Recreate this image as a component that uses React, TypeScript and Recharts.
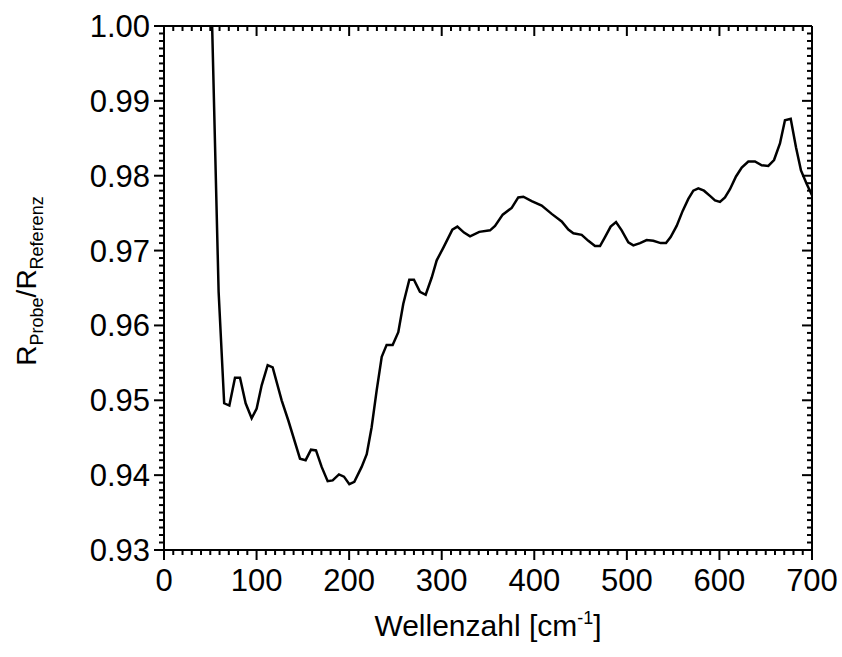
import React from 'react';
import { LineChart, Line, XAxis, YAxis } from 'recharts';

// wavenumber [cm^-1] and reflectance ratio
const wavenumbers = [
  52, 59, 65, 70.6, 76.7, 82.1, 88.2, 94.7, 100.1, 105.5, 112, 117.4, 127.1, 134.3,
  146.9, 153, 158.8, 164.2, 170.3, 176.8, 182.2, 189, 194.4, 200.2, 205.6, 213.5,
  219, 224.3, 229.7, 235.2, 240.5, 247, 253.1, 258.5, 265, 270, 276.5, 282.7, 289.2,
  294.6, 301.8, 311.5, 316.9, 324.1, 330.6, 340.6, 352.2, 357.6, 365.9, 375.6, 382.7,
  388.2, 397.2, 408, 418.8, 429.6, 436.8, 442.2, 451.2, 458.4, 465.6, 471, 476.4,
  482.5, 488.3, 494.4, 501.6, 507, 514.2, 521.4, 528.6, 536.5, 542.3, 547.3, 553.8,
  560.3, 566.4, 571.8, 577.2, 583.3, 589.8, 595.2, 600.6, 606, 611.4, 617.9, 624.1,
  631.2, 638.4, 645.7, 652.8, 659, 665.4, 670.8, 677, 682.7, 688.1, 694.3, 700,
];
const ratio = [
  1.0, 0.9645, 0.9496, 0.9493, 0.953, 0.953, 0.9496, 0.9476, 0.9489, 0.952, 0.9547, 0.9544, 0.95, 0.9473,
  0.9422, 0.942, 0.9434, 0.9433, 0.9411, 0.9392, 0.9393, 0.9401, 0.9398, 0.9388, 0.9391, 0.9411,
  0.9428, 0.9464, 0.9513, 0.9558, 0.9574, 0.9574, 0.9591, 0.9629, 0.9661, 0.9661, 0.9645, 0.9641, 0.9664,
  0.9687, 0.9704, 0.9728, 0.9732, 0.9724, 0.9719, 0.9725, 0.9727, 0.9733, 0.9748, 0.9757, 0.9771,
  0.9772, 0.9766, 0.976, 0.9749, 0.9739, 0.9728, 0.9723, 0.9721, 0.9713, 0.9706, 0.9706, 0.9718,
  0.9732, 0.9738, 0.9727, 0.9711, 0.9707, 0.971, 0.9714, 0.9713, 0.971, 0.971, 0.9718, 0.9733,
  0.9753, 0.9769, 0.978, 0.9783, 0.978, 0.9773, 0.9767, 0.9765, 0.9771, 0.9782, 0.9799, 0.9811,
  0.9819, 0.9819, 0.9814, 0.9813, 0.9821, 0.9843, 0.9874, 0.9876, 0.9838, 0.9807, 0.9789, 0.9774,
];

const X_DOMAIN = [0, 700];
const Y_DOMAIN = [0.93, 1.0];
const X_MAJOR = [0, 100, 200, 300, 400, 500, 600, 700];
const Y_MAJOR = ['0.93', '0.94', '0.95', '0.96', '0.97', '0.98', '0.99', '1.00'];

// minor ticks every 10 cm-1 and every 0.001
const xTicks = Array.from({ length: 71 }, (_, i) => i * 10);
const yTicks = Array.from({ length: 71 }, (_, i) => Math.round((0.93 + i * 0.001) * 1000) / 1000);

const data = wavenumbers.map((w, i) => ({ w, r: ratio[i] }));

const FONT = '"Liberation Sans", Arial, Helvetica, sans-serif';
const MAJOR_LEN = 10;
const MINOR_LEN = 5;

const isXMajor = (v: number) => X_MAJOR.includes(v);
const isYMajor = (v: number) => Y_MAJOR.includes(v.toFixed(2)) && Math.round(v * 1000) % 10 === 0;

function BottomTick({ x, y, payload }: any) {
  const major = isXMajor(payload.value);
  return (
    <g>
      <line x1={x} y1={y} x2={x} y2={y + (major ? MAJOR_LEN : MINOR_LEN)} stroke="#000" strokeWidth={2} />
      {major && (
        <text x={x} y={y + 41} textAnchor="middle" fontSize={31} fontFamily={FONT} fill="#000">
          {payload.value}
        </text>
      )}
    </g>
  );
}

function TopTick({ x, y, payload }: any) {
  const major = isXMajor(payload.value);
  return <line x1={x} y1={y} x2={x} y2={y + (major ? MAJOR_LEN : MINOR_LEN)} stroke="#000" strokeWidth={2} />;
}

function LeftTick({ x, y, payload }: any) {
  const major = isYMajor(payload.value);
  return (
    <g>
      <line x1={x} y1={y} x2={x - (major ? MAJOR_LEN : MINOR_LEN)} y2={y} stroke="#000" strokeWidth={2} />
      {major && (
        <text x={x - 14} y={y + 11} textAnchor="end" fontSize={31} fontFamily={FONT} fill="#000">
          {payload.value.toFixed(2)}
        </text>
      )}
    </g>
  );
}

function RightTick({ x, y, payload }: any) {
  const major = isYMajor(payload.value);
  return <line x1={x} y1={y} x2={x - (major ? MAJOR_LEN : MINOR_LEN)} y2={y} stroke="#000" strokeWidth={2} />;
}

function XTitle() {
  return (
    <text x={488} y={636} textAnchor="middle" fontSize={30} fontFamily={FONT} fill="#000">
      Wellenzahl [cm
      <tspan fontSize={18} dy={-12}>-1</tspan>
      <tspan dy={12}>]</tspan>
    </text>
  );
}

function YTitle() {
  return (
    <text
      x={36}
      y={281}
      transform="rotate(-90 36 281)"
      textAnchor="middle"
      fontSize={28}
      fontFamily={FONT}
      fill="#000"
    >
      R
      <tspan fontSize={18} dy={7}>Probe</tspan>
      <tspan dy={-7}>/R</tspan>
      <tspan fontSize={18} dy={7}>Referenz</tspan>
    </text>
  );
}

const axisLine = { stroke: '#000', strokeWidth: 2 };

export default function App() {
  return (
    <div style={{ position: 'absolute', left: 0, top: 0, background: '#fff' }}>
      <LineChart width={842} height={657} data={data} margin={{ top: 25, right: 29, bottom: 47, left: 64 }}>
        <XAxis
          xAxisId="bottom"
          dataKey="w"
          type="number"
          domain={X_DOMAIN}
          ticks={xTicks}
          interval={0}
          allowDataOverflow
          height={60}
          tickSize={0}
          tickMargin={0}
          tickLine={false}
          axisLine={axisLine}
          tick={(p: any) => <BottomTick {...p} />}
          label={{ content: () => <XTitle /> }}
        />
        <XAxis
          xAxisId="top"
          orientation="top"
          dataKey="w"
          type="number"
          domain={X_DOMAIN}
          ticks={xTicks}
          interval={0}
          allowDataOverflow
          height={1}
          tickSize={0}
          tickMargin={0}
          tickLine={false}
          axisLine={axisLine}
          tick={(p: any) => <TopTick {...p} />}
        />
        <YAxis
          yAxisId="left"
          type="number"
          domain={Y_DOMAIN}
          ticks={yTicks}
          interval={0}
          allowDataOverflow
          width={100}
          tickSize={0}
          tickMargin={0}
          tickLine={false}
          axisLine={axisLine}
          tick={(p: any) => <LeftTick {...p} />}
          label={{ content: () => <YTitle /> }}
        />
        <YAxis
          yAxisId="right"
          orientation="right"
          type="number"
          domain={Y_DOMAIN}
          ticks={yTicks}
          interval={0}
          allowDataOverflow
          width={1}
          tickSize={0}
          tickMargin={0}
          tickLine={false}
          axisLine={axisLine}
          tick={(p: any) => <RightTick {...p} />}
        />
        {/* invisible copy so the top/right frame axes get a series of their own */}
        <Line
          xAxisId="top"
          yAxisId="right"
          type="linear"
          dataKey="r"
          stroke="transparent"
          dot={false}
          activeDot={false}
          isAnimationActive={false}
        />
        <Line
          xAxisId="bottom"
          yAxisId="left"
          type="linear"
          dataKey="r"
          stroke="#000"
          strokeWidth={2.5}
          dot={false}
          isAnimationActive={false}
        />
      </LineChart>
    </div>
  );
}
